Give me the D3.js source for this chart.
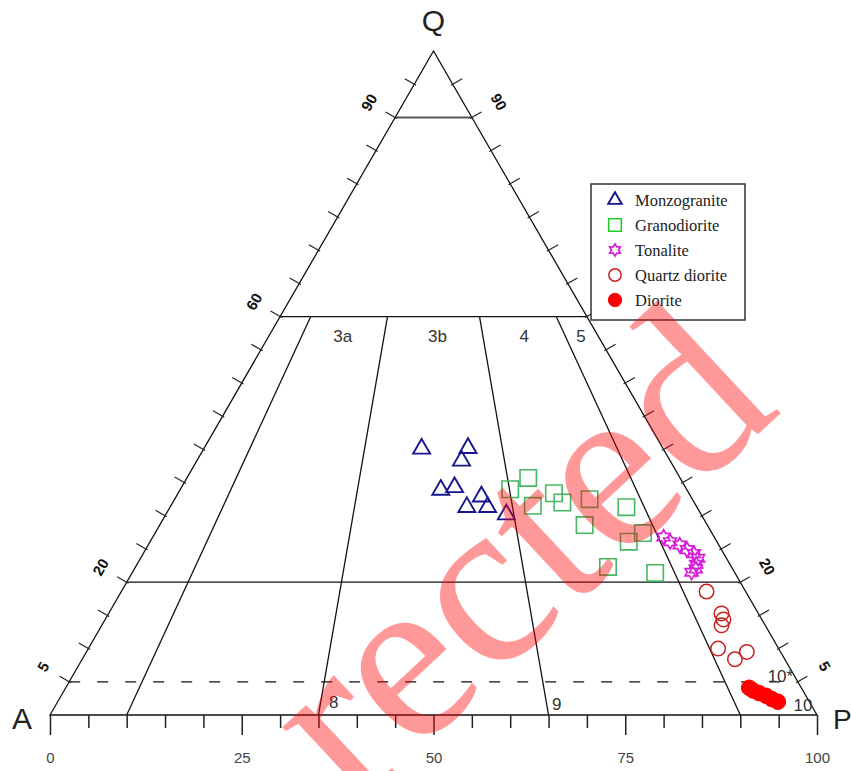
<!DOCTYPE html>
<html>
<head>
<meta charset="utf-8">
<script src="https://cdn.jsdelivr.net/npm/d3@7"></script>
<style>
body { margin: 0; background: #fff; }
svg { display: block; }
</style>
</head>
<body>
<div id="chart"></div>
<script>

// samples as [Q, A, P]
var monzogranite = [
    [40.1, 31.5, 28.4], [40.2, 25.4, 34.4], [38.3, 27.2, 34.5],
    [33.9, 32.1, 34.0], [34.3, 30.1, 35.6], [32.9, 27.3, 39.8],
    [31.3, 30.0, 38.7], [31.3, 27.3, 41.4], [30.2, 25.4, 44.4]
];
var granodiorite = [
    [34.0, 23.0, 43.0], [35.7, 19.8, 44.5], [31.5, 21.3, 47.2],
    [33.4, 17.6, 49.0], [32.0, 17.2, 50.8], [32.5, 13.4, 54.1],
    [28.6, 16.0, 55.4], [31.3, 9.2, 59.5], [26.1, 11.5, 62.4],
    [27.4, 9.0, 63.6], [22.3, 16.1, 61.6], [21.4, 10.4, 68.2]
];
var tonalite = [
    [26.8, 6.6, 66.6], [26.1, 6.1, 67.8], [25.6, 5.1, 69.3],
    [24.9, 4.5, 70.6], [24.3, 3.9, 71.8], [23.6, 3.7, 72.7],
    [22.7, 4.4, 72.9], [22.0, 4.8, 73.2], [21.5, 5.6, 72.9]
];
var quartzDiorite = [
    [18.6, 5.1, 76.3], [15.3, 4.8, 79.9], [14.4, 5.0, 80.6],
    [13.5, 5.7, 80.8], [10.0, 7.9, 82.1], [8.4, 6.5, 85.1],
    [9.5, 4.4, 86.1]
];
var diorite = [
    [4.1, 6.8, 89.1], [3.7, 6.5, 89.8], [3.3, 5.9, 90.8],
    [2.9, 5.2, 91.9], [2.4, 4.7, 92.9], [2.0, 4.1, 93.9]
];

var bottomTicks = d3.range(0, 101, 5);
var bottomLabels = [0, 25, 50, 75, 100];
var edgeTicks = d3.range(5, 100, 5);
var edgeLabels = [90, 60, 20, 5];
var qLines = [90, 60, 20];
var qDashed = 5;
var plagRatios = [10, 35, 65, 90];
var fieldTop = ["3a", "3b", "4", "5"];
var legendNames = ["Monzogranite", "Granodiorite", "Tonalite", "Quartz diorite", "Diorite"];


var width = 851, height = 771;

var svg = d3.select("#chart")
    .append("svg")
    .attr("width", width)
    .attr("height", height);

var x = d3.scaleLinear().domain([0, 100]).range([50, 817]);
var y = d3.scaleLinear().domain([0, 100]).range([715, 51]);

function pt(q, a, p) {
    var s = q + a + p;
    q = q / s * 100;
    p = p / s * 100;
    return [x(p + q / 2), y(q)];
}

var line = d3.line();

// star of david-ish outline
var hexagram = {
    draw: function(context, size) {
        var R = Math.sqrt(size) / 2, r = R / Math.sqrt(3);
        for (var i = 0; i < 12; i++) {
            var rad = i % 2 ? r : R;
            var ang = -Math.PI / 2 + i * Math.PI / 6;
            if (i == 0) context.moveTo(rad * Math.cos(ang), rad * Math.sin(ang));
            else context.lineTo(rad * Math.cos(ang), rad * Math.sin(ang));
        }
        context.closePath();
    }
};

var styles = [
    { data: monzogranite, type: d3.symbolTriangle, size: 125, legendSize: 80, stroke: "#16168e", fill: "none", width: 1.9 },
    { data: granodiorite, type: d3.symbolSquare, size: 270, legendSize: 160, stroke: "#44b862", fill: "none", width: 1.6 },
    { data: tonalite, type: hexagram, size: 220, legendSize: 150, stroke: "#d81ed8", fill: "none", width: 1.7 },
    { data: quartzDiorite, type: d3.symbolCircle, size: 165, legendSize: 120, stroke: "#c82020", fill: "none", width: 1.5 },
    { data: diorite, type: d3.symbolCircle, size: 190, legendSize: 140, stroke: "#ff0000", fill: "#ff0000", width: 1 }
];


// triangle frame
svg.append("path")
    .attr("d", line([pt(0, 100, 0), pt(0, 0, 100), pt(100, 0, 0)]) + "Z")
    .attr("fill", "none")
    .attr("stroke", "#111")
    .attr("stroke-width", 1.3);

// Q boundaries
qLines.forEach(function(q) {
    svg.append("path")
        .attr("d", line([pt(q, 100 - q, 0), pt(q, 0, 100 - q)]))
        .attr("stroke", q == 90 ? "#555" : "#111")
        .attr("stroke-width", q == 90 ? 2 : 1.3);
});

svg.append("path")
    .attr("d", line([pt(qDashed, 100 - qDashed, 0), pt(qDashed, 0, 100 - qDashed)]))
    .attr("stroke", "#111")
    .attr("stroke-width", 1.3)
    .attr("stroke-dasharray", "11,17");

// plagioclase ratio lines
plagRatios.forEach(function(r) {
    svg.append("path")
        .attr("d", line([pt(60, 40 * (100 - r) / 100, 40 * r / 100), pt(0, 100 - r, r)]))
        .attr("stroke", "#111")
        .attr("stroke-width", 1.3);
});

// edge ticks and labels
var nL = [-Math.cos(Math.PI / 6), -0.5], nR = [Math.cos(Math.PI / 6), -0.5];

edgeTicks.forEach(function(q) {
    var l = pt(q, 100 - q, 0), r = pt(q, 0, 100 - q);
    svg.append("path")
        .attr("d", line([[l[0] - 2 * nL[0], l[1] - 2 * nL[1]], [l[0] + 11 * nL[0], l[1] + 11 * nL[1]]]))
        .attr("stroke", "#222").attr("stroke-width", 1.2);
    svg.append("path")
        .attr("d", line([[r[0] - 2 * nR[0], r[1] - 2 * nR[1]], [r[0] + 11 * nR[0], r[1] + 11 * nR[1]]]))
        .attr("stroke", "#222").attr("stroke-width", 1.2);
});

edgeLabels.forEach(function(q) {
    var l = pt(q, 100 - q, 0), r = pt(q, 0, 100 - q);
    svg.append("text")
        .attr("transform", "translate(" + (l[0] + 30 * nL[0]) + "," + (l[1] + 30 * nL[1]) + ") rotate(-60)")
        .attr("text-anchor", "middle")
        .attr("dy", "0.35em")
        .attr("font-family", "Liberation Sans, Arial, sans-serif")
        .attr("font-weight", "bold")
        .attr("font-size", 15)
        .attr("fill", "#111")
        .text(q);
    svg.append("text")
        .attr("transform", "translate(" + (r[0] + 31 * nR[0]) + "," + (r[1] + 31 * nR[1]) + ") rotate(60)")
        .attr("text-anchor", "middle")
        .attr("dy", "0.35em")
        .attr("font-family", "Liberation Sans, Arial, sans-serif")
        .attr("font-weight", "bold")
        .attr("font-size", 15)
        .attr("fill", "#111")
        .text(q);
});

// bottom axis
var axis = d3.axisBottom(x)
    .tickValues(bottomTicks)
    .tickSize(13)
    .tickSizeOuter(0)
    .tickFormat(function(d) { return bottomLabels.indexOf(d) >= 0 ? d : ""; });

var gAxis = svg.append("g")
    .attr("transform", "translate(0," + y(0) + ")")
    .call(axis);

gAxis.select(".domain").remove();
gAxis.selectAll(".tick line")
    .attr("stroke", "#222")
    .attr("stroke-width", 1.5)
    .attr("y2", function(d) { return bottomLabels.indexOf(d) >= 0 ? 20 : 13; });
gAxis.selectAll(".tick text")
    .attr("y", 37)
    .attr("font-family", "Liberation Sans, Arial, sans-serif")
    .attr("font-size", 15)
    .attr("fill", "#444");

// field labels
var fieldBounds = [[10, 35], [35, 65], [65, 90], [90, 100]];
var fieldShift = [0, 4, 0, -1];
fieldTop.forEach(function(name, i) {
    var r = (fieldBounds[i][0] + fieldBounds[i][1]) / 2;
    var p = pt(57, 43 * (100 - r) / 100, 43 * r / 100);
    svg.append("text")
        .attr("x", p[0] + fieldShift[i])
        .attr("y", p[1])
        .attr("dy", "0.35em")
        .attr("text-anchor", "middle")
        .attr("font-family", "Liberation Sans, Arial, sans-serif")
        .attr("font-size", 17)
        .attr("fill", "#333")
        .text(name);
});

var lowLabels = [
    { t: "8", at: pt(2, 65, 35), dx: 13 },
    { t: "9", at: pt(1.6, 35, 65), dx: 10 },
    { t: "10*", at: pt(5.8, 5, 89.2), dx: 24 },
    { t: "10", at: pt(1.5, 5, 93.5), dx: 30 }
];
lowLabels.forEach(function(d) {
    svg.append("text")
        .attr("x", d.at[0] + d.dx)
        .attr("y", d.at[1])
        .attr("dy", "0.35em")
        .attr("text-anchor", "middle")
        .attr("font-family", "Liberation Sans, Arial, sans-serif")
        .attr("font-size", 17)
        .attr("fill", "#333")
        .text(d.t);
});

// vertex labels
svg.append("text").attr("x", x(50)).attr("y", 31).attr("text-anchor", "middle")
    .attr("font-family", "Liberation Sans, Arial, sans-serif").attr("font-size", 30).attr("fill", "#222").text("Q");
svg.append("text").attr("x", 22).attr("y", 729).attr("text-anchor", "middle")
    .attr("font-family", "Liberation Sans, Arial, sans-serif").attr("font-size", 30).attr("fill", "#222").text("A");
svg.append("text").attr("x", 833).attr("y", 729)
    .attr("font-family", "Liberation Sans, Arial, sans-serif").attr("font-size", 28).attr("fill", "#222").text("P");

// samples
styles.forEach(function(s) {
    svg.append("g").selectAll("path")
        .data(s.data)
        .enter()
        .append("path")
            .attr("transform", function(d) { var p = pt(d[0], d[1], d[2]); return "translate(" + p[0] + "," + p[1] + ")"; })
            .attr("d", d3.symbol().type(s.type).size(s.size))
            .attr("fill", s.fill)
            .attr("stroke", s.stroke)
            .attr("stroke-width", s.width);
});

// legend
var legend = svg.append("g").attr("transform", "translate(591,184)");
legend.append("rect")
    .attr("width", 154)
    .attr("height", 136)
    .attr("fill", "#fff")
    .attr("stroke", "#333")
    .attr("stroke-width", 1.5);

legendNames.forEach(function(name, i) {
    var s = styles[i];
    var row = legend.append("g").attr("transform", "translate(0," + (16 + i * 25) + ")");
    row.append("path")
        .attr("transform", "translate(24,0)")
        .attr("d", d3.symbol().type(s.type).size(s.legendSize))
        .attr("fill", s.fill)
        .attr("stroke", i == 1 ? "#22cc22" : s.stroke)
        .attr("stroke-width", s.width);
    row.append("text")
        .attr("x", 44)
        .attr("dy", "0.35em")
        .attr("font-family", "Liberation Serif, Times New Roman, serif")
        .attr("font-size", 16.5)
        .attr("fill", "#222")
        .text(name);
});

// stamp across the plot
svg.append("text")
    .attr("transform", "translate(354,811) rotate(-43)")
    .attr("font-family", "Liberation Serif, Times New Roman, serif")
    .attr("font-size", 240)
    .attr("fill", "#ff0000")
    .attr("fill-opacity", 0.4)
    .text("rected");

</script>
</body>
</html>
